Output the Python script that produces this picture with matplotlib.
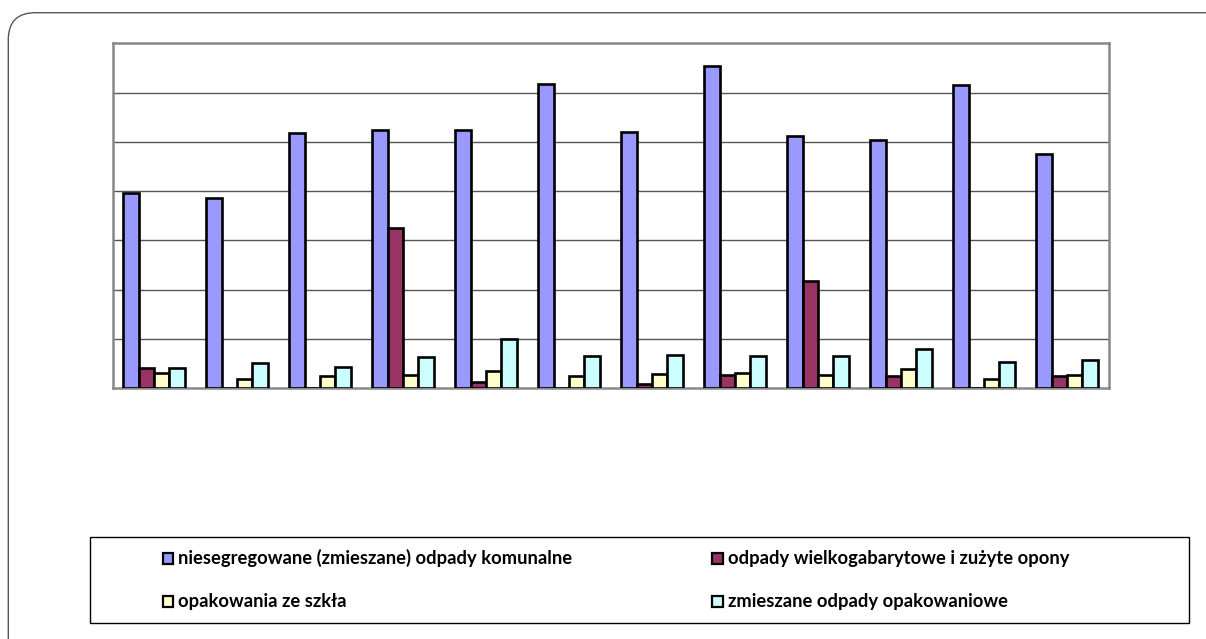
import numpy as np
import matplotlib.pyplot as plt
from matplotlib.patches import Rectangle, FancyBboxPatch

plt.rcParams['font.family'] = ['Lato', 'DejaVu Sans']

# 12 grup, 4 serie (wartosci, skala bez opisu osi)
groups = list(range(1, 13))
niesegregowane = [3.97, 3.86, 5.18, 5.23, 5.23, 6.17, 5.19, 6.53, 5.11, 5.04, 6.15, 4.76]
wielkogabarytowe = [0.41, 0.0, 0.0, 3.25, 0.13, 0.0, 0.09, 0.26, 2.17, 0.24, 0.0, 0.24]
szklo = [0.30, 0.19, 0.24, 0.26, 0.34, 0.24, 0.28, 0.31, 0.27, 0.39, 0.18, 0.26]
opakowaniowe = [0.41, 0.50, 0.43, 0.63, 1.00, 0.64, 0.67, 0.64, 0.64, 0.80, 0.52, 0.56]

series = [niesegregowane, wielkogabarytowe, szklo, opakowaniowe]
labels = ['niesegregowane (zmieszane) odpady komunalne',
          'odpady wielkogabarytowe i zużyte opony',
          'opakowania ze szkła',
          'zmieszane odpady opakowaniowe']
colors = ['#9999FF', '#993366', '#FFFFCC', '#CCFFFF']

W, H = 1206, 639
fig = plt.figure(figsize=(W / 100, H / 100), dpi=100)

# ramka zewnetrzna z zaokraglonymi rogami (wychodzi poza obraz w prawo i w dol)
frame = FancyBboxPatch((8.3 / 100, (H - 665) / 100), (1230 - 8.3) / 100, (665 - 12.7) / 100,
                       boxstyle='round,pad=0,rounding_size=0.27',
                       transform=fig.dpi_scale_trans, facecolor='white',
                       edgecolor='#555555', linewidth=1.0, clip_on=False, zorder=-10)
fig.add_artist(frame)

left, right, top, bottom = 112.5, 1108.5, 43.3, 388.0
ax = fig.add_axes([left / W, (H - bottom) / H, (right - left) / W, (bottom - top) / H])

x = np.arange(len(groups))
w = 0.186
for k, (vals, c) in enumerate(zip(series, colors)):
    ax.bar(x + (k - 1.5) * w, vals, width=w, color=c, edgecolor='black',
           linewidth=1.9, zorder=3)

ax.set_xlim(-0.5, len(groups) - 0.5)
ax.set_ylim(0, 7)
for yv in range(1, 7):
    ax.axhline(yv, color='#555555', linewidth=1.0, zorder=1)
ax.set_xticks([])
ax.set_yticks([])
for s in ax.spines.values():
    s.set_color('#888888')
    s.set_linewidth(1.8)
ax.patch.set_alpha(0)

# legenda
fig.add_artist(Rectangle((90 / W, (H - 622.5) / H), (1188.5 - 90) / W, (622.5 - 536.7) / H,
                         transform=fig.transFigure, facecolor='white',
                         edgecolor='black', linewidth=1.0))
pos = [(162.5, 558), (712, 558), (162.5, 601), (712, 601)]
for (px, py), lab, c in zip(pos, labels, colors):
    fig.add_artist(Rectangle((px / W, (H - py - 5.5) / H), 11 / W, 11 / H,
                             transform=fig.transFigure, facecolor=c,
                             edgecolor='black', linewidth=1.6))
    fig.text((px + 16) / W, (H - py - 6) / H, lab, fontsize=13.2, fontweight='bold',
             va='baseline', ha='left', color='black')

fig.savefig('out.png', dpi=100)
